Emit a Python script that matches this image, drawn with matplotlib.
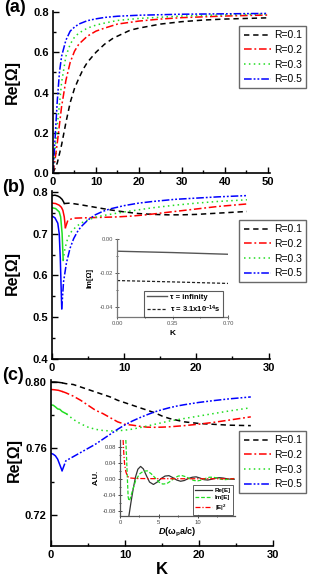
import matplotlib
matplotlib.use("Agg")
import matplotlib.pyplot as plt
from matplotlib.ticker import MultipleLocator

plt.rcParams['font.family'] = ['Liberation Sans', 'DejaVu Sans']
plt.rcParams['mathtext.fontset'] = 'custom'
plt.rcParams['mathtext.rm'] = 'Liberation Sans:bold'
plt.rcParams['mathtext.it'] = 'Liberation Sans:bold:italic'
plt.rcParams['mathtext.bf'] = 'Liberation Sans:bold'

# ---------------- data ----------------
labels = ['R=0.1', 'R=0.2', 'R=0.3', 'R=0.5']

# panel (a)
a_k1 = [0, 1, 2, 3, 4, 5, 6, 7, 8, 10, 12, 14, 16, 18, 20, 25, 30, 35, 40, 45, 50]
a_r1 = [0, 0.05, 0.14, 0.25, 0.35, 0.42, 0.47, 0.515, 0.55, 0.60, 0.64, 0.67, 0.69, 0.71, 0.72, 0.74, 0.752, 0.76, 0.765, 0.768, 0.771]
a_k2 = [0, 0.5, 1, 2, 3, 4, 5, 6, 8, 10, 12, 15, 20, 25, 30, 40, 50]
a_r2 = [0, 0.07, 0.15, 0.33, 0.46, 0.55, 0.605, 0.64, 0.68, 0.705, 0.72, 0.74, 0.755, 0.765, 0.772, 0.78, 0.785]
a_k3 = [0, 0.5, 1, 1.5, 2, 3, 4, 5, 6, 8, 10, 12, 15, 20, 30, 40, 50]
a_r3 = [0, 0.12, 0.24, 0.34, 0.45, 0.58, 0.64, 0.675, 0.695, 0.72, 0.735, 0.745, 0.758, 0.768, 0.78, 0.786, 0.79]
a_k5 = [0, 0.5, 1, 1.5, 2, 3, 4, 5, 6, 8, 10, 12, 15, 20, 30, 40, 50]
a_r5 = [0, 0.18, 0.36, 0.50, 0.58, 0.66, 0.705, 0.725, 0.74, 0.757, 0.766, 0.773, 0.779, 0.784, 0.789, 0.791, 0.793]

# panel (b): solid part before the dip, styled part after
b_k1s = [0, 0.4, 0.8, 1.1, 1.4, 1.6, 1.7]
b_r1s = [0.791, 0.792, 0.790, 0.787, 0.782, 0.776, 0.772]
b_k1 = [1.7, 2.5, 4, 6, 8, 10, 12, 14, 16, 18, 20, 22, 24, 27]
b_r1 = [0.772, 0.773, 0.769, 0.763, 0.757, 0.752, 0.748, 0.746, 0.745, 0.745, 0.746, 0.748, 0.750, 0.753]
b_k2s = [0, 0.5, 1.0, 1.3, 1.5, 1.7, 1.85]
b_r2s = [0.773, 0.772, 0.768, 0.763, 0.756, 0.740, 0.714]
b_k2 = [1.85, 2.2, 3, 5, 7, 9, 11, 13, 15, 17, 19, 21, 23, 25, 27]
b_r2 = [0.714, 0.732, 0.737, 0.738, 0.739, 0.740, 0.742, 0.745, 0.749, 0.753, 0.757, 0.761, 0.765, 0.768, 0.771]
b_k3s = [0, 0.5, 1.0, 1.2, 1.4, 1.55]
b_r3s = [0.762, 0.760, 0.752, 0.740, 0.700, 0.636]
b_k3 = [1.55, 1.8, 2.2, 2.7, 3.3, 4, 5, 6, 7, 8, 10, 12, 14, 17, 20, 23, 27]
b_r3 = [0.636, 0.665, 0.690, 0.705, 0.716, 0.725, 0.733, 0.739, 0.743, 0.746, 0.752, 0.757, 0.762, 0.768, 0.773, 0.777, 0.781]
b_k5s = [0, 0.4, 0.8, 1.0, 1.15, 1.3, 1.35]
b_r5s = [0.742, 0.738, 0.725, 0.70, 0.64, 0.55, 0.52]
b_k5 = [1.35, 1.6, 2.0, 2.5, 3, 3.5, 4, 5, 6, 7, 8, 10, 12, 14, 17, 20, 23, 27]
b_r5 = [0.52, 0.585, 0.63, 0.665, 0.688, 0.704, 0.716, 0.733, 0.745, 0.753, 0.759, 0.767, 0.773, 0.777, 0.782, 0.785, 0.788, 0.791]

# inset (b)
ib_k = [0.0, 0.35, 0.70]
ib_inf = [-0.0072, -0.0080, -0.0090]
ib_tau = [-0.0245, -0.0253, -0.0262]

# panel (c)
c_k1s = [0, 0.5, 1.0, 1.5]
c_r1s = [0.800, 0.800, 0.7998, 0.7995]
c_k1 = [1.5, 2, 3, 4, 5, 6, 7, 8, 9, 10, 11, 12, 13, 14, 15, 16, 17, 18, 19, 20, 22, 24, 27]
c_r1 = [0.7995, 0.799, 0.7985, 0.797, 0.7955, 0.794, 0.7925, 0.791, 0.789, 0.7875, 0.786, 0.7845, 0.783, 0.7815, 0.7795, 0.778, 0.777, 0.776, 0.7755, 0.775, 0.7745, 0.774, 0.7737]
c_k2s = [0, 0.5, 1.0, 1.5]
c_r2s = [0.7955, 0.7953, 0.795, 0.7943]
c_k2 = [1.5, 2, 3, 4, 5, 6, 7, 8, 9, 10, 11, 12, 13, 14, 15, 16, 18, 20, 22, 24, 27]
c_r2 = [0.7943, 0.7935, 0.7915, 0.789, 0.786, 0.783, 0.781, 0.7785, 0.776, 0.7745, 0.774, 0.7733, 0.7728, 0.7727, 0.7728, 0.773, 0.7737, 0.7746, 0.7757, 0.777, 0.779]
c_k3s = [0, 0.3, 0.6, 0.9, 1.2, 1.5, 1.8, 2.1]
c_r3s = [0.7862, 0.7860, 0.7850, 0.7838, 0.7835, 0.7822, 0.7815, 0.7808]
c_k3 = [2.1, 3, 4, 5, 6, 7, 8, 9, 10, 11, 12, 13, 14, 15, 16, 18, 20, 22, 24, 27]
c_r3 = [0.7808, 0.7775, 0.7748, 0.7728, 0.7715, 0.7708, 0.7705, 0.7706, 0.771, 0.7716, 0.7725, 0.7735, 0.7745, 0.7755, 0.7765, 0.778, 0.7795, 0.781, 0.7825, 0.7845]
c_k5s = [0, 0.3, 0.6, 0.9, 1.2, 1.5]
c_r5s = [0.757, 0.7565, 0.7555, 0.7535, 0.750, 0.7465]
c_k5 = [1.5, 2, 3, 4, 5, 6, 7, 8, 9, 10, 11, 12, 13, 14, 15, 16, 17, 18, 20, 22, 24, 27]
c_r5 = [0.7465, 0.7525, 0.755, 0.7575, 0.760, 0.7625, 0.7655, 0.7685, 0.7715, 0.7742, 0.7765, 0.7785, 0.7803, 0.782, 0.7833, 0.7845, 0.7855, 0.7863, 0.7877, 0.7888, 0.7898, 0.791]

# inset (c)
ic_dre = [1.15, 1.4, 1.7, 2.0, 2.3, 2.65, 3.0, 3.4, 3.8, 4.3, 4.8, 5.3, 5.8, 6.3, 6.8, 7.3, 7.8, 8.3, 8.8, 9.3, 9.8, 10.3, 10.8, 11.3, 11.8, 12.3, 12.8, 13.3, 13.8, 14.3, 14.7]
ic_re = [-0.092, -0.06, -0.025, 0.005, 0.024, 0.031, 0.025, 0.008, -0.008, -0.014, -0.008, 0.001, 0.007, 0.008, 0.003, -0.003, -0.006, -0.004, 0.001, 0.004, 0.005, 0.002, -0.002, -0.003, -0.001, 0.002, 0.003, 0.002, 0.000, -0.001, -0.001]
ic_dim = [0.75, 0.85, 0.95, 1.05, 1.15, 1.3, 1.6, 2.0, 2.5, 3.0, 3.5, 4.0, 4.5, 5.0, 5.5, 6.0, 6.5, 7.0, 7.5, 8.0, 8.5, 9.0, 9.5, 10.0, 10.5, 11.0, 11.5, 12.0, 12.5, 13.0, 13.5, 14.0, 14.7]
ic_im = [0.097, 0.05, 0.0, -0.045, -0.055, -0.05, -0.03, -0.005, 0.012, 0.019, 0.020, 0.013, 0.003, -0.008, -0.013, -0.012, -0.006, 0.002, 0.007, 0.008, 0.005, 0.0, -0.004, -0.005, -0.003, 0.001, 0.004, 0.004, 0.002, -0.001, -0.002, -0.001, 0.001]
ic_dab = [0.40, 0.5, 0.6, 0.75, 0.9, 1.1, 1.4, 2.0, 4.0, 8.0, 12.0, 14.7]
ic_ab = [0.097, 0.06, 0.035, 0.018, 0.009, 0.004, 0.002, 0.001, 0.0005, 0.0003, 0.0002, 0.0002]

# ---------------- styles ----------------
colors = ['#000000', '#ff0000', '#22dd22', '#0000ff']
styles = [(0, (3.5, 2.5)), (0, (5, 1.8, 1.2, 1.8)), (0, (1, 2.2)), (0, (5, 1.3, 1.2, 1.3, 1.2, 1.3))]
LW = 1.1

W, H = 312, 585
fig = plt.figure(figsize=(W / 100, H / 100), dpi=100)


def fx(px):
    return px / W


def fy(py):
    return 1 - py / H


def style_main(ax):
    for s in ['top', 'right']:
        ax.spines[s].set_visible(False)
    for s in ['left', 'bottom']:
        ax.spines[s].set_linewidth(1.2)
    ax.tick_params(which='both', direction='in', width=1.0, labelsize=8, pad=3)
    ax.tick_params(which='major', length=4)
    ax.tick_params(which='minor', length=2.2)
    for lab in ax.get_xticklabels() + ax.get_yticklabels():
        lab.set_fontweight('bold')


def add_legend(ax, handles, x1, y1):
    leg = ax.legend(handles, labels, loc='upper right',
                    bbox_to_anchor=(fx(x1), fy(y1)), bbox_transform=fig.transFigure,
                    fontsize=7.5, frameon=True, fancybox=False, handlelength=2.6,
                    handletextpad=0.3, labelspacing=0.45, borderpad=0.4, borderaxespad=0)
    leg.get_frame().set_edgecolor('#444444')
    leg.get_frame().set_linewidth(1.0)
    return leg


def ylabel_at(ax, right_px, left_px, width_px, frac):
    ax.set_ylabel('Re[Ω]', fontsize=11.5, fontweight='bold')
    ax.yaxis.set_label_coords((right_px - left_px) / width_px, frac)


# ---------------- panel (a) ----------------
axa = fig.add_axes([fx(53), fy(173), fx(270 - 53), (173 - 11) / H])
ha = []
for kk, rr, c, ls in zip([a_k1, a_k2, a_k3, a_k5], [a_r1, a_r2, a_r3, a_r5], colors, styles):
    h, = axa.plot(kk, rr, color=c, linestyle=ls, lw=LW)
    ha.append(h)
axa.set_xlim(0, 50.5)
axa.set_ylim(0, 0.805)
axa.xaxis.set_major_locator(MultipleLocator(10))
axa.xaxis.set_minor_locator(MultipleLocator(5))
axa.set_yticks([0, 0.2, 0.4, 0.6, 0.8])
axa.set_yticklabels(['0.0', '0.2', '0.4', '0.6', '0.8'])
axa.yaxis.set_minor_locator(MultipleLocator(0.1))
style_main(axa)
ylabel_at(axa, 20, 53, 217, 0.56)
add_legend(axa, ha, 306, 26)
fig.text(fx(4), fy(7), '(a)', fontsize=13, fontweight='bold', va='center', ha='left')

# ---------------- panel (b) ----------------
axb = fig.add_axes([fx(52), fy(359), fx(270 - 52), (359 - 191) / H])
hb = []
for ks, rs, kk, rr, c, ls in zip([b_k1s, b_k2s, b_k3s, b_k5s], [b_r1s, b_r2s, b_r3s, b_r5s],
                                 [b_k1, b_k2, b_k3, b_k5], [b_r1, b_r2, b_r3, b_r5], colors, styles):
    axb.plot(ks, rs, color=c, linestyle='-', lw=LW)
    h, = axb.plot(kk, rr, color=c, linestyle=ls, lw=LW)
    hb.append(h)
axb.set_xlim(0, 30.2)
axb.set_ylim(0.4, 0.802)
axb.xaxis.set_major_locator(MultipleLocator(10))
axb.xaxis.set_minor_locator(MultipleLocator(5))
axb.set_yticks([0.4, 0.5, 0.6, 0.7, 0.8])
axb.set_yticklabels(['0.4', '0.5', '0.6', '0.7', '0.8'])
axb.yaxis.set_minor_locator(MultipleLocator(0.05))
style_main(axb)
ylabel_at(axb, 20, 52, 218, 0.51)
add_legend(axb, hb, 306, 220)
fig.text(fx(2), fy(187), '(b)', fontsize=13, fontweight='bold', va='center', ha='left')

# inset (b)
ib = fig.add_axes([fx(117), fy(317), fx(228 - 117), (317 - 239) / H])
h1, = ib.plot(ib_k, ib_inf, color='#555555', lw=1.0, linestyle='-')
h2, = ib.plot(ib_k, ib_tau, color='#222222', lw=0.9, linestyle=(0, (2.5, 1.5)))
ib.set_xlim(0, 0.70)
ib.set_ylim(-0.046, 0.0)
ib.set_xticks([0.0, 0.35, 0.70])
ib.set_xticklabels(['0.00', '0.35', '0.70'])
ib.xaxis.set_minor_locator(MultipleLocator(0.175))
ib.set_yticks([0.0, -0.02, -0.04])
ib.set_yticklabels(['0.00', '-0.02', '-0.04'])
ib.yaxis.set_minor_locator(MultipleLocator(0.01))
for s in ['top', 'right']:
    ib.spines[s].set_visible(False)
for s in ['left', 'bottom']:
    ib.spines[s].set_color('#777777')
    ib.spines[s].set_linewidth(0.9)
ib.tick_params(which='both', direction='inout', labelsize=4.2, colors='#555555', width=0.7, pad=1.5)
ib.tick_params(which='major', length=3)
ib.tick_params(which='minor', length=1.8)
ib.patch.set_alpha(0)
ib.set_xlabel('K', fontsize=6, fontweight='bold', labelpad=3)
ib.set_ylabel('Im[Ω]', fontsize=5.5, fontweight='bold', labelpad=4)
lg = ib.legend([h1, h2], ['τ = infinity', 'τ = 3.1x10$^{-14}$s'], loc='upper right',
               bbox_to_anchor=(fx(223), fy(291)), bbox_transform=fig.transFigure,
               prop={'size': 5.5, 'weight': 'bold'}, frameon=True, fancybox=False,
               handlelength=2.6, handletextpad=0.4, labelspacing=0.3, borderpad=0.35, borderaxespad=0)
lg.get_frame().set_edgecolor('#333333')
lg.get_frame().set_linewidth(0.8)

# ---------------- panel (c) ----------------
axc = fig.add_axes([fx(51), fy(546), fx(273 - 51), (546 - 380) / H])
hc = []
for ks, rs, kk, rr, c, ls in zip([c_k1s, c_k2s, c_k3s, c_k5s], [c_r1s, c_r2s, c_r3s, c_r5s],
                                 [c_k1, c_k2, c_k3, c_k5], [c_r1, c_r2, c_r3, c_r5], colors, styles):
    axc.plot(ks, rs, color=c, linestyle='-', lw=LW)
    h, = axc.plot(kk, rr, color=c, linestyle=ls, lw=LW)
    hc.append(h)
axc.set_xlim(0, 30)
axc.set_ylim(0.7012, 0.8012)
axc.xaxis.set_major_locator(MultipleLocator(10))
axc.xaxis.set_minor_locator(MultipleLocator(5))
axc.set_yticks([0.72, 0.76, 0.80])
axc.set_yticklabels(['0.72', '0.76', '0.80'])
axc.yaxis.set_minor_locator(MultipleLocator(0.02))
style_main(axc)
ylabel_at(axc, 22, 51, 222, 0.52)
axc.set_xlabel('K', fontsize=12, fontweight='bold', labelpad=1)
add_legend(axc, hc, 306, 431)
fig.text(fx(2), fy(375), '(c)', fontsize=13, fontweight='bold', va='center', ha='left')

# inset (c)
ic = fig.add_axes([fx(120), fy(515.7), fx(235 - 120), (515.7 - 440) / H])
g1, = ic.plot(ic_dre, ic_re, color='#333333', lw=0.9, linestyle='-')
g2, = ic.plot(ic_dim, ic_im, color='#22dd22', lw=0.9, linestyle=(0, (3, 1.5)))
g3, = ic.plot(ic_dab, ic_ab, color='#ff0000', lw=0.9, linestyle=(0, (4, 1.5, 1, 1.5)))
ic.set_xlim(0, 14.8)
ic.set_ylim(-0.092, 0.097)
ic.set_xticks([0, 5, 10])
ic.xaxis.set_minor_locator(MultipleLocator(2.5))
ic.set_yticks([-0.08, -0.04, 0.0, 0.04, 0.08])
ic.set_yticklabels(['-0.08', '-0.04', '0.00', '0.04', '0.08'])
ic.yaxis.set_minor_locator(MultipleLocator(0.02))
for s in ['top', 'right']:
    ic.spines[s].set_visible(False)
for s in ['left', 'bottom']:
    ic.spines[s].set_color('#555555')
    ic.spines[s].set_linewidth(0.9)
ic.tick_params(which='both', direction='inout', labelsize=4.2, colors='#444444', width=0.7, pad=1.5)
ic.tick_params(which='major', length=3)
ic.tick_params(which='minor', length=1.8)
ic.patch.set_alpha(0)
ic.set_xlabel(r'$D$(ω$_{\mathrm{p}}$a/c)', fontsize=6.5, fontweight='bold', labelpad=0.5)
ic.set_ylabel('A.U.', fontsize=5.5, fontweight='bold', labelpad=2)
lg2 = ic.legend([g1, g2, g3], ['Re[E]', 'Im[E]', '|E|$^{2}$'], loc='lower right',
                bbox_to_anchor=(fx(233), fy(515)), bbox_transform=fig.transFigure,
                prop={'size': 4.5, 'weight': 'bold'}, frameon=True, fancybox=False,
                handlelength=2.8, handletextpad=0.4, labelspacing=0.35, borderpad=0.35, borderaxespad=0)
lg2.get_frame().set_edgecolor('#333333')
lg2.get_frame().set_linewidth(0.7)

fig.savefig('out.png', dpi=100)
